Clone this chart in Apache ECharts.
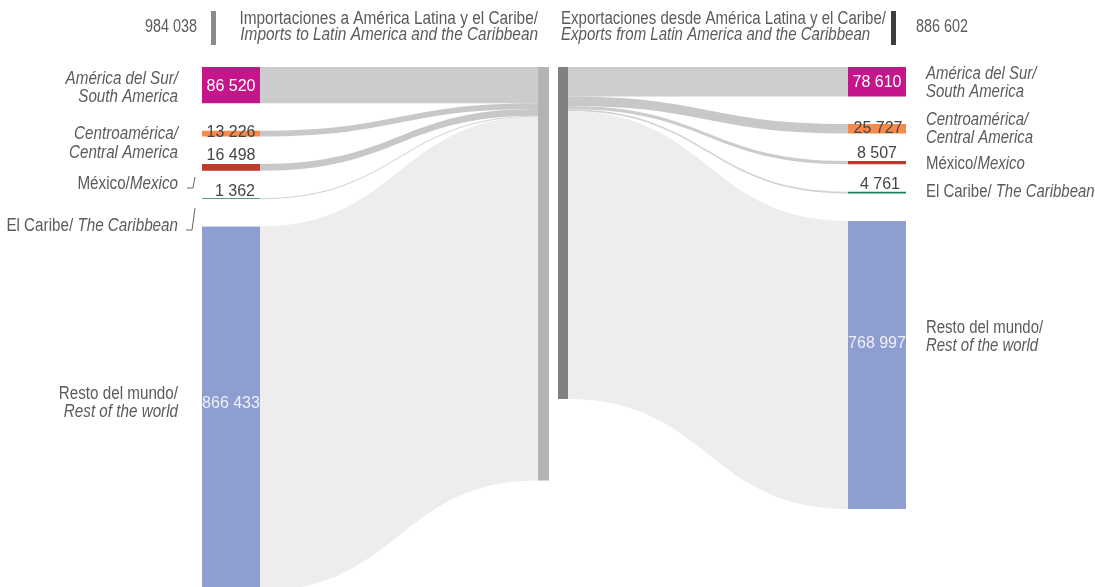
<!DOCTYPE html>
<html>
<head>
<meta charset="utf-8">
<script src="https://cdn.jsdelivr.net/npm/echarts@6/dist/echarts.min.js"></script>
<style>
  html, body { margin: 0; padding: 0; background: #fff; }
  #chart { width: 1095px; height: 587px; }
</style>
</head>
<body>
<div id="chart"></div>
<script>
// data
const regionsEs = ['América del Sur/', 'Centroamérica/', 'México/', 'El Caribe/ ', 'Resto del mundo/'];
const regionsEn = ['South America', 'Central America', 'Mexico', 'The Caribbean', 'Rest of the world'];
const importValues = [86520, 13226, 16498, 1362, 866433];
const exportValues = [78610, 25727, 8507, 4761, 768997];
const importTotal = 984038;
const exportTotal = 886602;
const importTitle = ['Importaciones a América Latina y el Caribe/', 'Imports to Latin America and the Caribbean'];
const exportTitle = ['Exportaciones desde América Latina y el Caribe/', 'Exports from Latin America and the Caribbean'];

// styles
const FONT = '"Liberation Sans", Arial, sans-serif';
const SQUEEZE = 0.845; // the original uses a condensed face
const nodeColors = ['#c4168a', '#f58a4b', '#c0392b', '#1b7e62', '#8e9ed1'];
const importLinkColors = ['#cbcccd', '#c8c8c8', '#c8c8c8', '#d0d0d0', '#ededed'];
const exportLinkColors = ['#cdcdcd', '#c8c8c8', '#cccccc', '#d2d2d2', '#ededed'];
const NAME_COLOR = '#5b5b5b';
const VALUE_COLOR = '#454545';

const importLabelStyle = [
  { position: 'inside', offset: [0, 1], color: '#fff' },
  { position: 'inside', offset: [0, -1], color: VALUE_COLOR },
  { position: 'top', distance: 0, color: VALUE_COLOR },
  { position: 'top', distance: -1, offset: [4, 0], color: VALUE_COLOR },
  { position: 'inside', offset: [0, -5], color: '#eef0f8' }
];
const exportLabelStyle = [
  { position: 'inside', offset: [0, 1], color: '#fff' },
  { position: 'inside', offset: [1, 0], color: VALUE_COLOR },
  { position: 'top', distance: -1, color: VALUE_COLOR },
  { position: 'top', distance: -1, offset: [3, 0], color: VALUE_COLOR },
  { position: 'inside', offset: [0, -21], color: '#eef0f8' }
];

const fmt = v => String(v).replace(/\B(?=(\d{3})+(?!\d))/g, ' ');

// the hub node is as wide as the others, only a thin strip of it is painted
function stripColor(color, from, to) {
  const clear = 'rgba(255,255,255,0)';
  return {
    type: 'linear', x: 0, y: 0, x2: 1, y2: 0,
    colorStops: [
      { offset: 0, color: from > 0 ? clear : color },
      { offset: from, color: from > 0 ? clear : color },
      { offset: from, color: color },
      { offset: to, color: color },
      { offset: to, color: to < 1 ? clear : color },
      { offset: 1, color: to < 1 ? clear : color }
    ]
  };
}

const importNodes = regionsEn.map((name, i) => ({
  name: name,
  value: importValues[i],
  itemStyle: { color: nodeColors[i] },
  label: Object.assign({ show: true }, importLabelStyle[i])
}));
importNodes.push({
  name: 'imports',
  value: importTotal,
  itemStyle: { color: stripColor('#b3b3b3', 0, 11 / 58) },
  label: { show: false }
});

const exportNodes = [{
  name: 'exports',
  value: exportTotal,
  itemStyle: { color: stripColor('#808080', 48 / 58, 1) },
  label: { show: false }
}].concat(regionsEn.map((name, i) => ({
  name: name,
  value: exportValues[i],
  itemStyle: { color: nodeColors[i] },
  label: Object.assign({ show: true }, exportLabelStyle[i])
})));

const importLinks = regionsEn.map((name, i) => ({
  source: name, target: 'imports', value: importValues[i],
  lineStyle: { color: importLinkColors[i] }
}));
const exportLinks = regionsEn.map((name, i) => ({
  source: 'exports', target: name, value: exportValues[i],
  lineStyle: { color: exportLinkColors[i] }
}));

const sankeyBase = {
  type: 'sankey',
  nodeWidth: 58,
  nodeGap: 27.5,
  layoutIterations: 0,
  draggable: false,
  nodeAlign: 'justify',
  itemStyle: { borderWidth: 0 },
  lineStyle: { opacity: 1, curveness: 0.5 },
  emphasis: { disabled: true },
  label: { formatter: p => fmt(p.value), fontFamily: FONT, fontSize: 16 }
};

// text blocks for the region names
function nameText(i) {
  const parts = {
    0: ['{i|' + regionsEs[0] + '}', '{i|' + regionsEn[0] + '}'],
    1: ['{i|' + regionsEs[1] + '}', '{i|' + regionsEn[1] + '}'],
    2: ['{n|' + regionsEs[2] + '}{i|' + regionsEn[2] + '}'],
    3: ['{n|' + regionsEs[3] + '}{i|' + regionsEn[3] + '}'],
    4: ['{n|' + regionsEs[4] + '}', '{i|' + regionsEn[4] + '}']
  };
  return parts[i].join('\n');
}

function textEl(x, y, text, align, lh, squeeze) {
  return {
    type: 'text', x: x, y: y, scaleX: squeeze || SQUEEZE, silent: true,
    style: {
      text: text, align: align, verticalAlign: 'top',
      font: '18px ' + FONT, fill: NAME_COLOR, lineHeight: lh,
      rich: {
        n: { fontFamily: FONT, fontSize: 18, fill: NAME_COLOR, lineHeight: lh },
        i: { fontFamily: FONT, fontSize: 18, fontStyle: 'italic', fill: NAME_COLOR, lineHeight: lh }
      }
    }
  };
}

const leftNameTops = [70, 124, 175, 217, 386];
const leftNameLh = [18, 19, 18, 18, 17];
const rightNameTops = [65, 111, 155, 183, 319];
const rightNameLh = [18, 18, 18, 18, 18];

const graphics = [];
regionsEn.forEach((n, i) => {
  graphics.push(textEl(178, leftNameTops[i], nameText(i), 'right', leftNameLh[i]));
  graphics.push(textEl(926, rightNameTops[i], nameText(i), 'left', rightNameLh[i], 0.83));
});
// small corner marks next to México and El Caribe (left)
graphics.push({ type: 'polyline', silent: true, shape: { points: [[195, 177], [193, 188], [187, 188]] },
  style: { stroke: '#666', lineWidth: 1, fill: null } });
graphics.push({ type: 'polyline', silent: true, shape: { points: [[195, 208], [192, 230], [186, 230]] },
  style: { stroke: '#666', lineWidth: 1, fill: null } });

// header
graphics.push(textEl(538, 11, '{n|' + importTitle[0] + '}\n{i|' + importTitle[1] + '}', 'right', 16, 0.855));
graphics.push(textEl(561, 11, '{n|' + exportTitle[0] + '}\n{i|' + exportTitle[1] + '}', 'left', 16, 0.835));
graphics.push({ type: 'text', x: 197, y: 27, scaleX: 0.8, silent: true,
  style: { text: fmt(importTotal), align: 'right', verticalAlign: 'middle', font: '18px ' + FONT, fill: NAME_COLOR } });
graphics.push({ type: 'text', x: 916, y: 27, scaleX: 0.8, silent: true,
  style: { text: fmt(exportTotal), align: 'left', verticalAlign: 'middle', font: '18px ' + FONT, fill: NAME_COLOR } });
graphics.push({ type: 'rect', silent: true, shape: { x: 211, y: 11, width: 5, height: 34 }, style: { fill: '#8a8a8a' } });
graphics.push({ type: 'rect', silent: true, shape: { x: 891, y: 11, width: 5, height: 34 }, style: { fill: '#3d3d3d' } });

const chart = echarts.init(document.getElementById('chart'));
chart.setOption({
  animation: false,
  backgroundColor: '#fff',
  textStyle: { fontFamily: FONT },
  graphic: graphics,
  series: [
    Object.assign({}, sankeyBase, {
      left: 202, top: 67, width: 394, height: 523.6,
      data: importNodes, links: importLinks
    }),
    Object.assign({}, sankeyBase, {
      left: 510, top: 67, width: 396, height: 442,
      data: exportNodes, links: exportLinks
    })
  ]
});
</script>
</body>
</html>
